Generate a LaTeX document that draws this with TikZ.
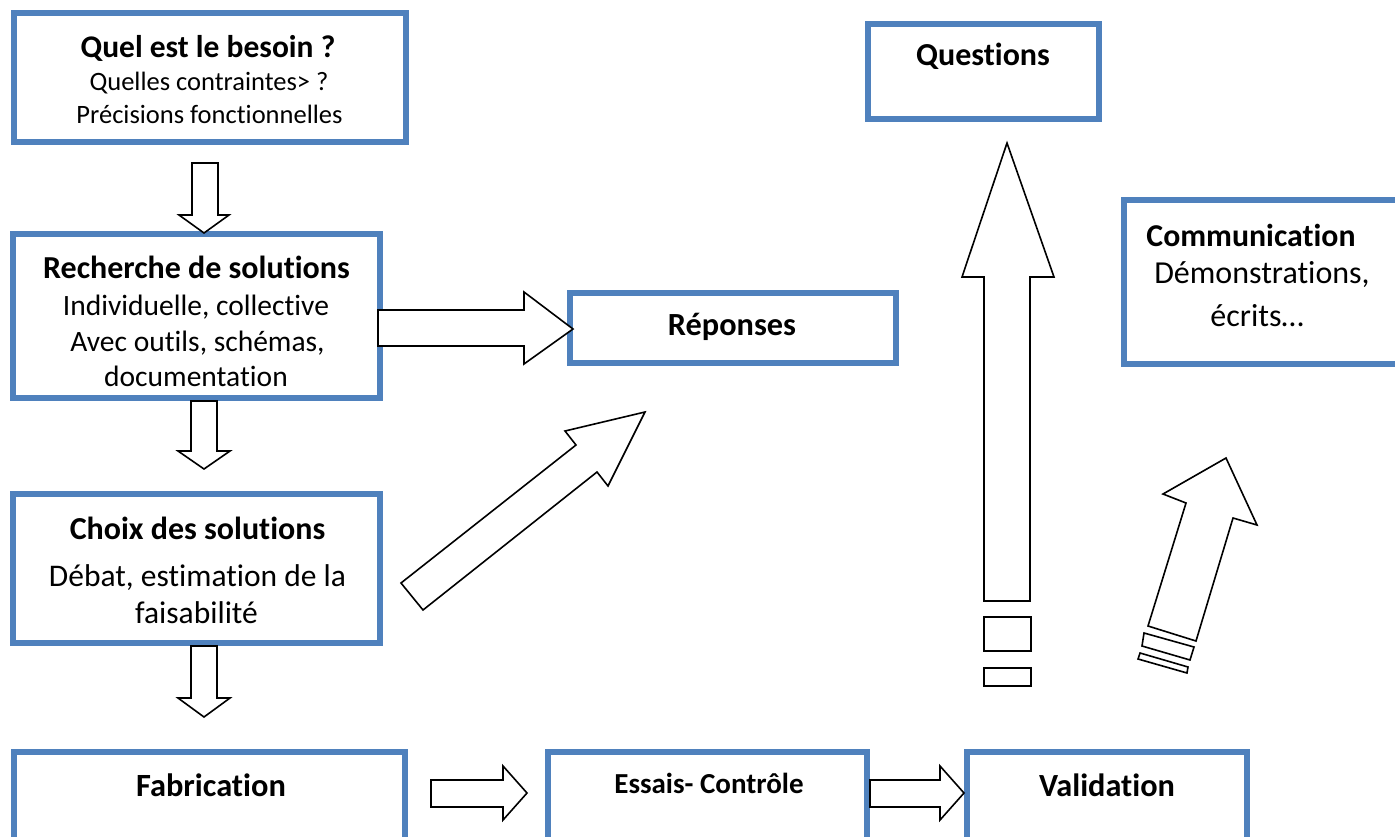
\documentclass[tikz,border=0pt]{standalone}
\usepackage{fontspec}
\setmainfont{Carlito}[Ligatures={NoCommon,NoDiscretionary}]
\definecolor{boxblue}{RGB}{79,129,189}
\newcommand\fsz[1]{\fontsize{#1}{#1}\selectfont}
\tikzset{
  box/.style={draw=boxblue, line width=6pt, fill=white, inner sep=0pt},
  blk/.style={draw=black, line width=1.6pt, fill=white, line join=miter},
  ln/.style={anchor=base, inner sep=0pt},
}
\begin{document}
\begin{tikzpicture}[x=1pt,y=-1pt]
\useasboundingbox (0,0) rectangle (1395,836);
% boxes
\node[box, minimum width=392pt, minimum height=129pt] (b1) at (210,77.5) {};
\node[box, minimum width=367pt, minimum height=164pt] (b2) at (196.5,316) {};
\node[box, minimum width=367pt, minimum height=149pt] (b3) at (196.5,568.5) {};
\node[box, minimum width=391pt, minimum height=93pt] (b4) at (209.5,798.5) {};
\node[box, minimum width=319pt, minimum height=93pt] (b5) at (707.5,798.5) {};
\node[box, minimum width=280pt, minimum height=93pt] (b6) at (1106.5,798.5) {};
\node[box, minimum width=326pt, minimum height=70pt] (b7) at (733,328) {};
\node[box, minimum width=231pt, minimum height=95pt] (b8) at (983.5,71.5) {};
\node[box, minimum width=276pt, minimum height=164pt] (b9) at (1262,282) {};
% block arrows
\draw[blk] (192,163) -- (218,163) -- (218,215) -- (229,215) -- (204,233) -- (179,215) -- (192,215) -- cycle;
\draw[blk] (191,401) -- (217,401) -- (217,451) -- (230,451) -- (204,469) -- (178,451) -- (191,451) -- cycle;
\draw[blk] (191,646) -- (217,646) -- (217,698) -- (230,698) -- (204,717) -- (178,698) -- (191,698) -- cycle;
\draw[blk] (378,310) -- (524,310) -- (524,292) -- (573,329) -- (524,364) -- (524,346) -- (378,346) -- cycle;
\draw[blk] (401,583) -- (576,445) -- (565,431) -- (645,412) -- (608,486) -- (597,472) -- (423,610) -- cycle;
\draw[blk] (1007,143) -- (1054,277) -- (1030,277) -- (1030,601) -- (984,601) -- (984,277) -- (962,277) -- cycle;
\draw[blk] (984,617) rectangle (1031,651);
\draw[blk] (984,668) rectangle (1031,686);
\draw[blk] (1226,458) -- (1257,525) -- (1233,518) -- (1196,641) -- (1148,626) -- (1186,503) -- (1163,494) -- cycle;
\draw[blk] (1144,633) -- (1194,647) -- (1190,660) -- (1142,646) -- cycle;
\draw[blk] (1140,653) -- (1188,667) -- (1187,673) -- (1138,659) -- cycle;
\draw[blk] (431,780) -- (503,780) -- (503,766) -- (527,793) -- (503,820) -- (503,807) -- (431,807) -- cycle;
\draw[blk] (870,780) -- (940,780) -- (940,766) -- (964,793) -- (940,820) -- (940,807) -- (870,807) -- cycle;
% texts
\node[ln, font=\fsz{31.5}\bfseries] (t1a) at (208,57) {Quel est le besoin ?};
\node[ln, font=\fsz{26.5}] (t1b) at (209,90.5) {Quelles contraintes> ?};
\node[ln, font=\fsz{26.5}] (t1c) at (209.5,123.5) {Précisions fonctionnelles};
\node[ln, font=\fsz{32}\bfseries] (t2a) at (196.5,278) {Recherche de solutions};
\node[ln, font=\fsz{29.5}] (t2b) at (196,315) {Individuelle, collective};
\node[ln, font=\fsz{29.5}] (t2c) at (197.5,351) {Avec outils, schémas,};
\node[ln, font=\fsz{29.5}] (t2d) at (196,386) {documentation};
\node[ln, font=\fsz{32}\bfseries] (t3a) at (197.5,539) {Choix des solutions};
\node[ln, font=\fsz{31.5}] (t3b) at (197.5,586) {Débat, estimation de la};
\node[ln, font=\fsz{31.5}] (t3c) at (196.5,623) {faisabilité};
\node[ln, font=\fsz{32.4}\bfseries] (t4) at (211,796) {Fabrication};
\node[ln, font=\fsz{29}\bfseries] (t5) at (709,793) {Essais- Contrôle};
\node[ln, font=\fsz{32.3}\bfseries] (t6) at (1107,796) {Validation};
\node[ln, font=\fsz{32.3}\bfseries] (t7) at (732,335) {Réponses};
\node[ln, font=\fsz{32}\bfseries] (t8) at (983,65) {Questions};
\node[ln, font=\fsz{31.8}\bfseries] (t9a) at (1251,246) {Communication};
\node[ln, font=\fsz{32}] (t9b) at (1262,283) {Démonstrations,};
\node[ln, font=\fsz{32}] (t9c) at (1257,326) {écrits…};
\end{tikzpicture}
\end{document}
